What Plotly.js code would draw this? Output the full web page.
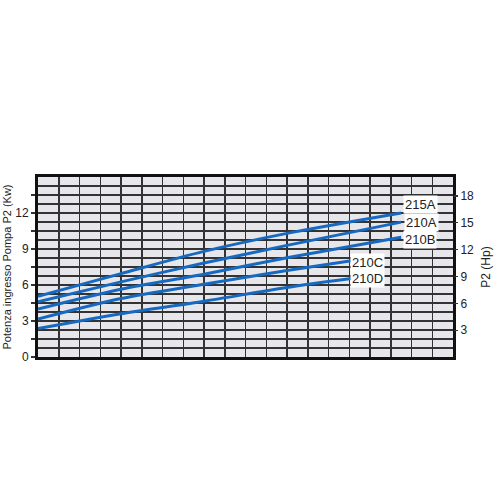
<!DOCTYPE html>
<html>
<head>
<meta charset="utf-8">
<script src="https://cdn.plot.ly/plotly-3.0.1.min.js"></script>
<style>
  html, body { margin: 0; padding: 0; background: #fff; }
  #chart { width: 500px; height: 500px; }
</style>
</head>
<body>
<div id="chart"></div>
<script>
// Pump power curves (P2 kW vs flow, x in grid columns)

// Data
var series_names = ['215A', '210A', '210B', '210C', '210D'];
var x_long = [0, 4, 8, 12, 17.5];
var x_short = [0, 4, 8, 12, 15.1];
var p2_215A = [5.05, 6.95, 8.8, 10.3, 12.0];
var p2_210A = [4.6, 6.26, 7.83, 9.3, 11.24];
var p2_210B = [4.0, 5.65, 6.9, 8.27, 9.98];
var p2_210C = [3.16, 4.87, 6.07, 7.2, 8.02];
var p2_210D = [2.37, 3.61, 4.65, 5.8, 6.54];

// label positions (x col, y kW)
var label_x = [18.45, 18.5, 18.4, 15.9, 15.9];
var label_y = [12.75, 11.25, 9.8, 7.85, 6.55];

var kw_ticks = [0, 1.5, 3, 4.5, 6, 7.5, 9, 10.5, 12, 13.5];
var kw_labels = ['0', '', '3', '', '6', '', '9', '', '12', ''];
var hp_ticks = [3, 6, 9, 12, 15, 18];
var kw_to_hp = 1.341;


var blue = '#1769c0';
var gridc = '#333333';

function make_trace(name, xs, ys) {
  return {
    x: xs,
    y: ys,
    name: name,
    mode: 'lines',
    type: 'scatter',
    line: {color: blue, width: 3, shape: 'spline', smoothing: 0.8},
    hoverinfo: 'skip',
  };
}

var plot_data = [
  make_trace('215A', x_long, p2_215A),
  make_trace('210A', x_long, p2_210A),
  make_trace('210B', x_long, p2_210B),
  make_trace('210C', x_short, p2_210C),
  make_trace('210D', x_short, p2_210D),
];

// the minor grid lines fall between the labelled ticks
var minor_vals = [];
for (let i = 0; i < kw_ticks.length; i++) {
  minor_vals.push(kw_ticks[i] + 0.75);
}

function get_annotations() {
  var annots = [];
  for (let i = 0; i < series_names.length; i++) {
    annots.push({
      x: label_x[i],
      y: label_y[i],
      xref: 'x',
      yref: 'y',
      text: series_names[i],
      showarrow: false,
      bgcolor: '#ffffff',
      borderpad: 1,
      font: {family: 'Liberation Sans, Arial, sans-serif', size: 13, color: '#222'},
    });
  }
  return annots;
}

var layout = {
  width: 500,
  height: 500,
  autosize: false,
  margin: {l: 38, r: 47, t: 177, b: 143},
  paper_bgcolor: '#ffffff',
  plot_bgcolor: '#e6e6eb',
  showlegend: false,
  font: {family: 'Liberation Sans, Arial, sans-serif', size: 12, color: '#222'},
  annotations: get_annotations(),

  xaxis: {
    range: [0, 20],
    tickmode: 'linear',
    tick0: 0,
    dtick: 1,
    showticklabels: false,
    ticks: '',
    showgrid: true,
    gridcolor: gridc,
    gridwidth: 1.5,
    zeroline: false,
    showline: true,
    mirror: true,
    linecolor: '#111',
    linewidth: 3,
    fixedrange: true,
  },
  yaxis: {
    range: [0, 15],
    tickmode: 'array',
    tickvals: kw_ticks,
    ticktext: kw_labels,
    ticks: 'outside',
    ticklen: 4,
    tickwidth: 1.2,
    tickcolor: '#333',
    showgrid: true,
    gridcolor: gridc,
    gridwidth: 1.5,
    minor: {
      tickmode: 'array',
      tickvals: minor_vals,
      showgrid: true,
      gridcolor: gridc,
      gridwidth: 1.5,
      ticks: '',
    },
    zeroline: false,
    showline: true,
    mirror: true,
    linecolor: '#111',
    linewidth: 3,
    title: {text: 'Potenza ingresso Pompa P2 (Kw)', font: {size: 11, color: '#222'}, standoff: 2},
    fixedrange: true,
  },
  yaxis2: {
    overlaying: 'y',
    side: 'right',
    range: [0, 15 * kw_to_hp],
    tickmode: 'array',
    tickvals: hp_ticks,
    ticks: 'outside',
    ticklen: 4,
    tickwidth: 1.2,
    tickcolor: '#333',
    showgrid: false,
    zeroline: false,
    showline: false,
    title: {text: 'P2 (Hp)', font: {size: 12, color: '#222'}, standoff: 8},
    fixedrange: true,
  },
};

// an empty trace to bring the Hp axis out
plot_data.push({x: [0], y: [0], yaxis: 'y2', mode: 'none', type: 'scatter', hoverinfo: 'skip'});

var config = {displayModeBar: false, staticPlot: true};
Plotly.newPlot('chart', plot_data, layout, config);
</script>
</body>
</html>
